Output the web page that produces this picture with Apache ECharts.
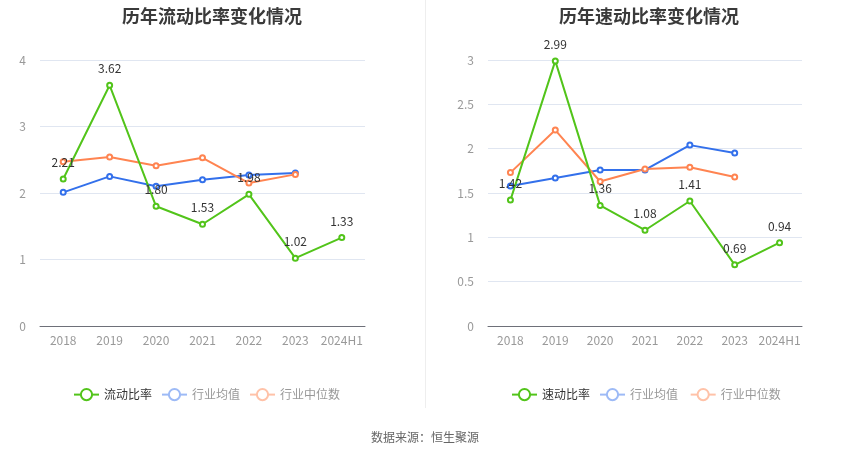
<!DOCTYPE html>
<html><head><meta charset="utf-8">
<script src="https://cdn.jsdelivr.net/npm/echarts@6/dist/echarts.min.js"></script>
<style>html,body{margin:0;padding:0;background:#fff}#c{width:850px;height:459px}</style>
</head><body><div id="c"></div>
<script>
var categories = ['2018','2019','2020','2021','2022','2023','2024H1'];
var currentRatio = [2.21, 3.62, 1.80, 1.53, 1.98, 1.02, 1.33];
var currentIndAvg = [2.01, 2.25, 2.10, 2.20, 2.27, 2.30];
var currentIndMed = [2.47, 2.54, 2.41, 2.53, 2.15, 2.28];
var quickRatio = [1.42, 2.99, 1.36, 1.08, 1.41, 0.69, 0.94];
var quickIndAvg = [1.58, 1.67, 1.76, 1.76, 2.04, 1.95];
var quickIndMed = [1.73, 2.21, 1.63, 1.77, 1.79, 1.68];
var leftTicks = [0, 1, 2, 3, 4];
var rightTicks = [0, 0.5, 1, 1.5, 2, 2.5, 3];

var GREEN = '#52c41a', BLUE = '#3370eb', ORANGE = '#ff8451';
var FONT = '"Noto Sans CJK SC", "Noto Sans", sans-serif';
var chart = echarts.init(document.getElementById('c'));

function xAxis(gi) {
  return {type:'category', gridIndex:gi, data:categories, boundaryGap:true,
    axisLine:{lineStyle:{color:'#6e7079'}}, axisTick:{alignWithLabel:true, lineStyle:{color:'#6e7079'}},
    axisLabel:{color:'#999', fontSize:12, margin:8, interval:0, fontFamily:FONT}};
}
function yAxis(gi, ticks) {
  return {type:'value', gridIndex:gi, min:ticks[0], max:ticks[ticks.length-1], interval:ticks[1]-ticks[0],
    axisLine:{show:false}, axisTick:{show:false},
    axisLabel:{color:'#999', fontSize:12, margin:14, fontFamily:FONT},
    splitLine:{lineStyle:{color:'#e0e6f1'}}};
}
function line(name, data, color, gi, label) {
  return {name:name, type:'line', xAxisIndex:gi, yAxisIndex:gi, data:data,
    symbol:'emptyCircle', symbolSize:5, lineStyle:{width:2, color:color}, itemStyle:{color:color},
    label:{show:!!label, position:'top', color:'#333', fontSize:12, fontFamily:FONT, distance:7,
      formatter:function(p){return p.value.toFixed(2);}},
    z: label ? 3 : 2};
}
function legend(left, names) {
  return {left:left, top:383, itemWidth:25, itemHeight:14, itemGap:9, textStyle:{fontSize:12, fontFamily:FONT},
    data:[
      {name:names[0], textStyle:{color:'#333'}},
      {name:names[1], itemStyle:{color:'#9dbaf6', borderColor:'#9dbaf6'}, lineStyle:{color:'#9dbaf6'}, textStyle:{color:'#999'}},
      {name:names[2], itemStyle:{color:'#ffc2a8', borderColor:'#ffc2a8'}, lineStyle:{color:'#ffc2a8'}, textStyle:{color:'#999'}}
    ]};
}

chart.setOption({
  animation:false,
  textStyle:{fontFamily:FONT},
  title:[
    {text:'历年流动比率变化情况', left:207, top:2, textAlign:'center', textStyle:{fontSize:18, fontWeight:'bold', color:'#3a3a3a', fontFamily:FONT}},
    {text:'历年速动比率变化情况', left:644, top:2, textAlign:'center', textStyle:{fontSize:18, fontWeight:'bold', color:'#3a3a3a', fontFamily:FONT}}
  ],
  legend:[legend(68, ['流动比率','行业均值','行业中位数']), legend(506, ['速动比率','行业均值 ','行业中位数 '])],
  grid:[
    {left:40, top:60, width:325, height:266},
    {left:488, top:60, width:314, height:266}
  ],
  xAxis:[xAxis(0), xAxis(1)],
  yAxis:[yAxis(0, leftTicks), yAxis(1, rightTicks)],
  graphic:[
    {type:'line', shape:{x1:425.5, y1:0, x2:425.5, y2:408}, style:{stroke:'#eeeeee', lineWidth:1}},
    {type:'text', left:'center', top:431, style:{text:'数据来源：恒生聚源', fill:'#666', fontSize:12, fontFamily:FONT}}
  ],
  series:[
    line('行业均值', currentIndAvg, BLUE, 0),
    line('行业中位数', currentIndMed, ORANGE, 0),
    line('流动比率', currentRatio, GREEN, 0, true),
    line('行业均值 ', quickIndAvg, BLUE, 1),
    line('行业中位数 ', quickIndMed, ORANGE, 1),
    line('速动比率', quickRatio, GREEN, 1, true)
  ]
});
</script></body></html>
